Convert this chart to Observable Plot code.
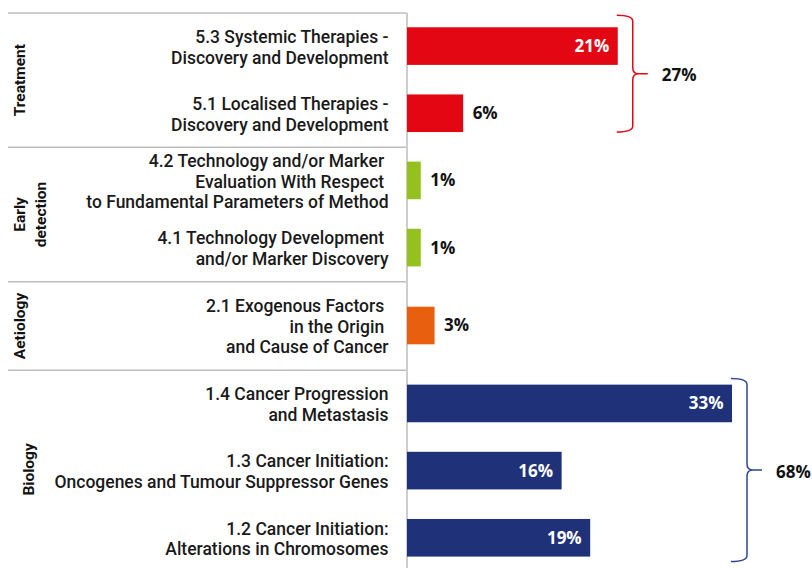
<!DOCTYPE html>
<html><head><meta charset="utf-8">
<script src="https://cdn.jsdelivr.net/npm/d3@7"></script>
<script src="https://cdn.jsdelivr.net/npm/@observablehq/plot@0.6"></script>
<style>
body{margin:0;background:#fff;}
#chart svg{display:block;}
.catlab text{white-space:pre;}
</style></head><body><div id="chart"></div>
<script>
// ---- data ----
const groups = ["Treatment", "Early detection", "Aetiology", "Biology"];
const groupLabels = ["Treatment", "Early\ndetection", "Aetiology", "Biology"];
const categories = [
  "5.3 Systemic Therapies -\nDiscovery and Development",
  "5.1 Localised Therapies -\nDiscovery and Development",
  "4.2 Technology and/or Marker \nEvaluation With Respect \nto Fundamental Parameters of Method",
  "4.1 Technology Development \nand/or Marker Discovery",
  "2.1 Exogenous Factors \nin the Origin \nand Cause of Cancer",
  "1.4 Cancer Progression\nand Metastasis",
  "1.3 Cancer Initiation:\nOncogenes and Tumour Suppressor Genes",
  "1.2 Cancer Initiation:\nAlterations in Chromosomes"
];
const categoryGroup = ["Treatment", "Treatment", "Early detection", "Early detection", "Aetiology", "Biology", "Biology", "Biology"];
const values = [21.4, 5.7, 1.4, 1.4, 2.8, 33.0, 15.7, 18.6];
const totalGroups = ["Treatment", "Biology"];
const totalLabels = ["27%", "68%"];

// ---- styles / layout ----
const groupColors = ["#e30613", "#95c11f", "#e8600f", "#1f3279"];
const braceColors = ["#e30613", "#2d4593"];
const sectionSpan = {"Treatment": 2, "Early detection": 2, "Aetiology": 1.32, "Biology": 2.95};
const groupLabelDx = {"Treatment": 18.5, "Early detection": 28.5, "Aetiology": 18.5, "Biology": 27};
const bracePad = {"Treatment": [12, 0], "Biology": [6, 5]};

// build sections
let acc = 0;
const sections = groups.map((g, i) => {
  const s = {group: g, label: groupLabels[i], start: acc, span: sectionSpan[g]};
  acc += sectionSpan[g];
  return s;
});
const total = acc;
const rows = categories.map((c, i) => ({label: c, group: categoryGroup[i], value: values[i]}));
for (const s of sections) {
  const rs = rows.filter(r => r.group === s.group);
  const pad = Math.max(0.5, (s.span - rs.length) / 2 + 0.5);
  rs.forEach((r, j) => { r.c = s.start + pad + j; });
}
const half = 0.28;
const totals = totalGroups.map((g, i) => {
  const rs = rows.filter(r => r.group === g);
  return {group: g, label: totalLabels[i], max: d3.max(rs, r => r.value),
          top: rs[0].c - half, bottom: rs[rs.length - 1].c + half, color: braceColors[i]};
});

function braces(index, scales) {
  const g = d3.create("svg:g");
  for (const t of totals) {
    const [pt, pb] = bracePad[t.group];
    const xl = scales.x(t.max) - 1, xs = xl + 16, xt = xl + 31;
    const yt = scales.y(t.top) - pt, yb = scales.y(t.bottom) + pb;
    const ym = (yt + yb) / 2, r = 6;
    const p = `M${xl},${yt} Q${xs},${yt} ${xs},${yt + r} L${xs},${ym - r} Q${xs},${ym} ${xs + r},${ym} L${xt},${ym} M${xs + r},${ym} Q${xs},${ym} ${xs},${ym + r} L${xs},${yb - r} Q${xs},${yb} ${xl},${yb}`;
    g.append("path").attr("d", p).attr("fill", "none").attr("stroke", t.color).attr("stroke-width", 1.5);
    g.append("text").attr("x", xt + 14).attr("y", ym + 1.5).attr("dy", "0.35em")
      .attr("text-anchor", "start")
      .attr("font-family", "'Open Sans', sans-serif").attr("font-weight", "bold").attr("font-size", 17)
      .attr("fill", "#111").text(t.label);
  }
  return g.node();
}

const groupLabelMarks = sections.map(s =>
  Plot.text([s], {frameAnchor: "left", y: d => d.start + d.span / 2, text: "label", rotate: -90,
    textAnchor: "middle", lineAnchor: "middle", dx: groupLabelDx[s.group], fontSize: 15.5,
    fontWeight: "bold", fill: "#111", lineHeight: 1.3}));

const chart = Plot.plot({
  width: 812, height: 568,
  marginTop: 0, marginBottom: 0, marginLeft: 0, marginRight: 0,
  x: {domain: [0, 33], range: [407, 732], axis: null},
  y: {domain: [0, total], range: [12.5, 568], axis: null},
  color: {domain: groups, range: groupColors},
  style: {fontFamily: "Roboto, sans-serif", background: "#fff"},
  marks: [
    Plot.ruleY(sections, {y: "start", stroke: "#bdbdbd", strokeWidth: 1.5, insetLeft: 8, insetRight: 406}),
    Plot.ruleX([0], {y1: 0, y2: total, stroke: "#bdbdbd", strokeWidth: 1.5, dx: -0.5}),
    Plot.rectX(rows, {x1: 0, x2: "value", y1: d => d.c - half, y2: d => d.c + half, fill: "group"}),
    Plot.text(rows.filter(d => d.value >= 10), {x: "value", y: "c", text: d => Math.round(d.value) + "%", textAnchor: "end", dx: -9, fill: "white", fontFamily: "'Open Sans', sans-serif", fontWeight: "bold", fontSize: 17}),
    Plot.text(rows.filter(d => d.value < 10), {x: "value", y: "c", text: d => Math.round(d.value) + "%", textAnchor: "start", dx: 9, fill: "#111", fontFamily: "'Open Sans', sans-serif", fontWeight: "bold", fontSize: 17}),
    Plot.text(rows, {x: 0, y: "c", text: "label", textAnchor: "end", lineAnchor: "middle", lineHeight: 1.18, dx: -19, fontSize: 17.5, fontWeight: 500, fill: "#1a1a1a", className: "catlab"}),
    ...groupLabelMarks,
    braces
  ]
});
document.getElementById("chart").append(chart);
</script></body></html>
